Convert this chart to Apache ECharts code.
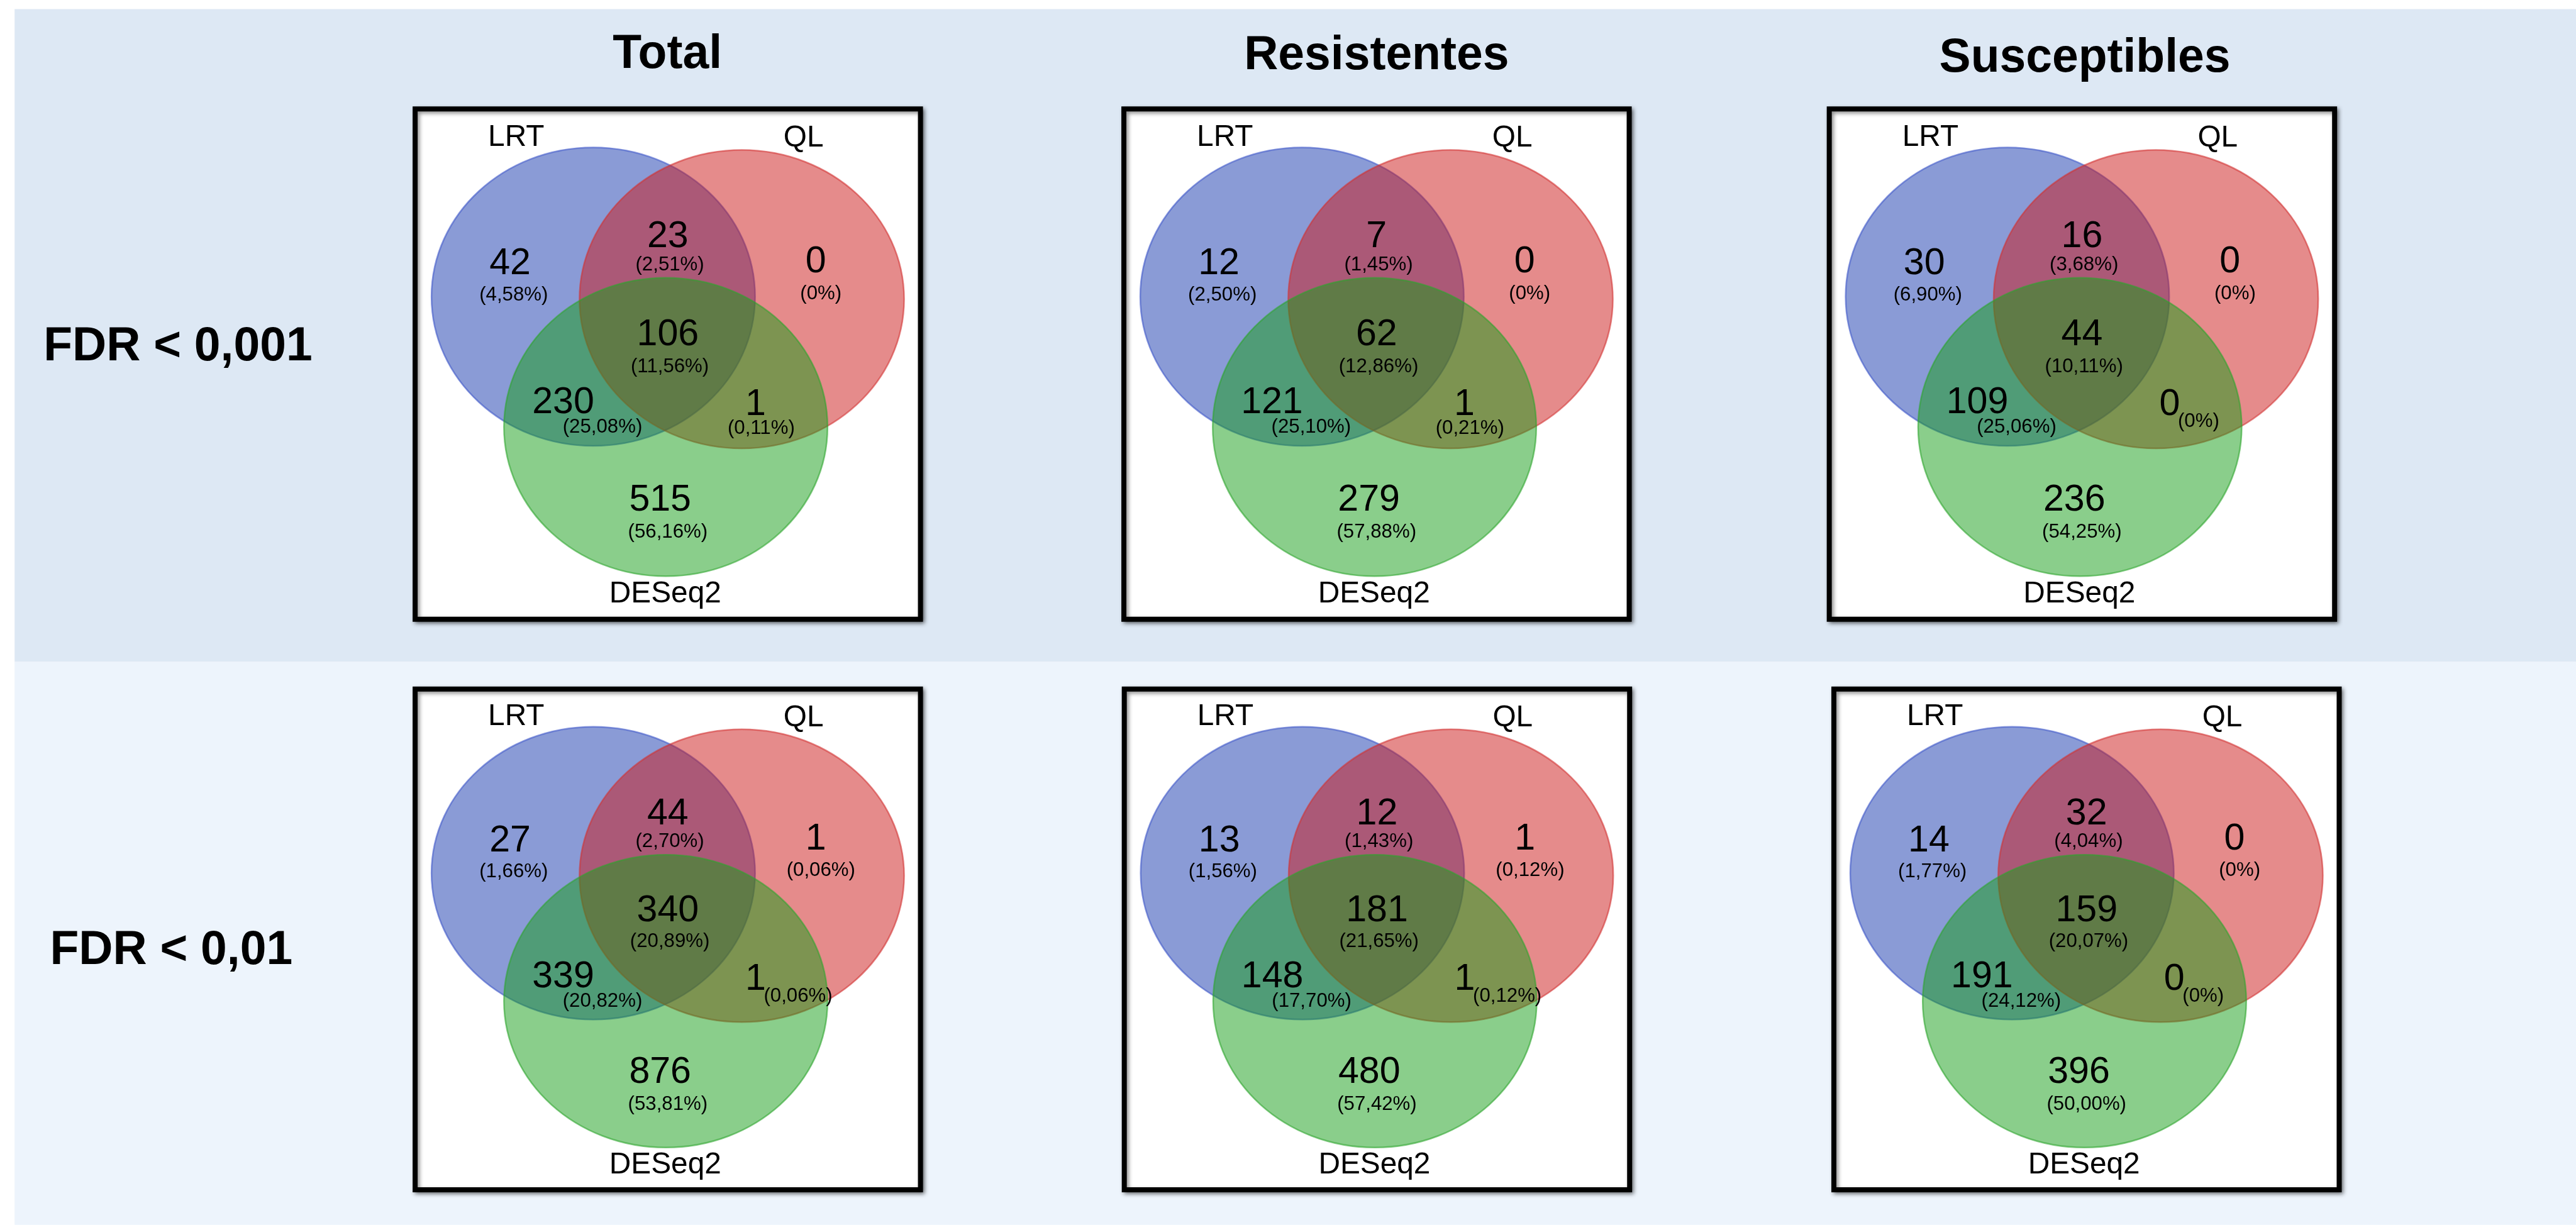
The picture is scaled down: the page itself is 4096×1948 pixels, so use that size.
<!DOCTYPE html>
<html>
<head>
<meta charset="utf-8">
<title>Venn DE genes</title>
<script src="https://cdn.jsdelivr.net/npm/echarts@6/dist/echarts.min.js"></script>
<style>
  html, body { margin: 0; padding: 0; background: #ffffff; }
  #chart { width: 4096px; height: 1948px; }
</style>
</head>
<body>
<div id="chart"></div>
<script>
// ---- data -------------------------------------------------------------
const columnTitles = ['Total', 'Resistentes', 'Susceptibles'];
const rowLabels = ['FDR < 0,001', 'FDR < 0,01'];
const setNames = ['LRT', 'QL', 'DESeq2'];
// region order: LRT only, LRT∩QL, QL only, LRT∩QL∩DESeq2, LRT∩DESeq2, QL∩DESeq2, DESeq2 only
const regionNames = ['LRT', 'LRT∩QL', 'QL', 'LRT∩QL∩DESeq2', 'LRT∩DESeq2', 'QL∩DESeq2', 'DESeq2'];

const countsFdr001Total = [42, 23, 0, 106, 230, 1, 515];
const pctFdr001Total = [4.58, 2.51, 0, 11.56, 25.08, 0.11, 56.16];
const countsFdr001Res = [12, 7, 0, 62, 121, 1, 279];
const pctFdr001Res = [2.50, 1.45, 0, 12.86, 25.10, 0.21, 57.88];
const countsFdr001Sus = [30, 16, 0, 44, 109, 0, 236];
const pctFdr001Sus = [6.90, 3.68, 0, 10.11, 25.06, 0, 54.25];

const countsFdr01Total = [27, 44, 1, 340, 339, 1, 876];
const pctFdr01Total = [1.66, 2.70, 0.06, 20.89, 20.82, 0.06, 53.81];
const countsFdr01Res = [13, 12, 1, 181, 148, 1, 480];
const pctFdr01Res = [1.56, 1.43, 0.12, 21.65, 17.70, 0.12, 57.42];
const countsFdr01Sus = [14, 32, 0, 159, 191, 0, 396];
const pctFdr01Sus = [1.77, 4.04, 0, 20.07, 24.12, 0, 50.00];

const panelCounts = [
  [countsFdr001Total, countsFdr001Res, countsFdr001Sus],
  [countsFdr01Total, countsFdr01Res, countsFdr01Sus]
];
const panelPcts = [
  [pctFdr001Total, pctFdr001Res, pctFdr001Sus],
  [pctFdr01Total, pctFdr01Res, pctFdr01Sus]
];

// ---- layout (design units, scaled to the canvas by K) -----------------
const K = 4096 / 6168;
const FONT = "'Liberation Sans', Arial, Helvetica, sans-serif";
const BOX_W = 1222;
const ROWS = [
  { y: 255, h: 1234, xs: [988, 2685, 4374], labelX: 426, labelY: 832 },
  { y: 1644, h: 1211, xs: [988, 2686, 4385], labelX: 410, labelY: 2277 }
];
const TITLE_POS = [[1598, 132], [3296, 134], [4992, 141]];
const BANDS = [
  { x: 35, y: 22, x2: 6168, y2: 1585, color: '#dde8f4' },
  { x: 35, y: 1585, x2: 6168, y2: 2933, color: '#edf4fc' }
];

// ellipses in box-relative fractions
const ELLIPSES = [
  { cx: 0.354, cy: 0.369, rx: 0.317, ry: 0.2895, fill: 'rgba(21,55,173,0.5)', stroke: 'rgba(60,85,200,0.6)' },
  { cx: 0.645, cy: 0.374, rx: 0.318, ry: 0.2895, fill: 'rgba(203,23,23,0.5)', stroke: 'rgba(210,50,50,0.6)' },
  { cx: 0.496, cy: 0.622, rx: 0.317, ry: 0.2895, fill: 'rgba(21,157,23,0.5)', stroke: 'rgba(45,165,45,0.6)' }
];
const NAME_POS = [[0.203, 0.060], [0.766, 0.062], [0.495, 0.946]];
const REGION_POS = [
  { n: [0.191, 0.306], p: [0.198, 0.366] },
  { n: [0.500, 0.253], p: [0.504, 0.307] },
  { n: [0.790, 0.302], p: [0.800, 0.364] },
  { n: [0.500, 0.444], p: [0.504, 0.505] },
  { n: [0.295, 0.575], p: [0.372, 0.622] },
  { n: [0.672, 0.579], p: [0.683, 0.625] },
  { n: [0.485, 0.764], p: [0.500, 0.826] }
];
// panels whose QL∩DESeq2 percentage sits to the right of the count
const INLINE_PCT = [[false, false, true], [true, true, true]];
const INLINE_POS = [0.688, 0.612];

const FS_COUNT = 89 * K, FS_PCT = 47 * K, FS_NAME = 72 * K, FS_HEAD = 113 * K;

function fmtPct(v) {
  return '(' + (v === 0 ? '0' : v.toFixed(2).replace('.', ',')) + '%)';
}

// ---- option -----------------------------------------------------------
const grids = [], xAxes = [], yAxes = [], series = [], graphics = [];

BANDS.forEach(b => graphics.push({
  type: 'rect', z: 0, silent: true,
  shape: { x: b.x * K, y: b.y * K, width: (b.x2 - b.x) * K, height: (b.y2 - b.y) * K },
  style: { fill: b.color }
}));

columnTitles.forEach((t, c) => graphics.push({
  type: 'text', z: 1, x: TITLE_POS[c][0] * K, y: TITLE_POS[c][1] * K,
  style: { text: t, fill: '#000', fontFamily: FONT, fontWeight: 'bold', fontSize: FS_HEAD, align: 'center', verticalAlign: 'middle' }
}));

const BORDER = 12 * K;
ROWS.forEach((row, r) => {
  graphics.push({
    type: 'text', z: 1, x: row.labelX * K, y: row.labelY * K,
    style: { text: rowLabels[r], fill: '#000', fontFamily: FONT, fontWeight: 'bold', fontSize: FS_HEAD, align: 'center', verticalAlign: 'middle' }
  });
  row.xs.forEach((x0, c) => {
    const p = r * 3 + c;
    // framed white panel
    graphics.push({
      type: 'rect', z: 1, silent: true,
      shape: { x: x0 * K + BORDER / 2, y: row.y * K + BORDER / 2, width: BOX_W * K - BORDER, height: row.h * K - BORDER },
      style: { fill: '#ffffff', stroke: '#000000', lineWidth: BORDER,
        shadowBlur: 6, shadowOffsetX: 3, shadowOffsetY: 3, shadowColor: 'rgba(0,0,0,0.45)' }
    });
    grids.push({ left: x0 * K, top: row.y * K, width: BOX_W * K, height: row.h * K, show: false });
    xAxes.push({ type: 'value', gridIndex: p, min: 0, max: 1, show: false });
    yAxes.push({ type: 'value', gridIndex: p, min: 0, max: 1, inverse: true, show: false });

    // the three sets
    series.push({
      type: 'custom', name: columnTitles[c] + ' sets', coordinateSystem: 'cartesian2d',
      xAxisIndex: p, yAxisIndex: p, z: 3, silent: true,
      data: setNames.map((n, i) => [i]),
      renderItem(params, api) {
        const i = api.value(0);
        const e = ELLIPSES[i];
        const ctr = api.coord([e.cx, e.cy]);
        const sz = api.size([e.rx, e.ry]);
        const np = api.coord(NAME_POS[i]);
        return {
          type: 'group',
          children: [
            { type: 'ellipse', shape: { cx: ctr[0], cy: ctr[1], rx: sz[0], ry: sz[1] },
              style: { fill: e.fill, stroke: e.stroke, lineWidth: 2.5 } },
            { type: 'text', x: np[0], y: np[1],
              style: { text: setNames[i], fill: '#000', fontFamily: FONT, fontSize: FS_NAME, align: 'center', verticalAlign: 'middle' } }
          ]
        };
      }
    });

    // region counts and shares
    const counts = panelCounts[r][c], pcts = panelPcts[r][c];
    const inline = INLINE_PCT[r][c];
    series.push({
      type: 'custom', name: columnTitles[c] + ' ' + rowLabels[r], coordinateSystem: 'cartesian2d',
      xAxisIndex: p, yAxisIndex: p, z: 5, silent: true,
      encode: { x: 0, y: 0 },
      data: counts.map((v, k) => [k, v, pcts[k]]),
      renderItem(params, api) {
        const k = api.value(0), v = api.value(1), pc = api.value(2);
        const pos = REGION_POS[k];
        const side = inline && k === 5;
        const nxy = api.coord(pos.n);
        const pxy = api.coord(side ? INLINE_POS : pos.p);
        return {
          type: 'group',
          children: [
            { type: 'text', x: nxy[0], y: nxy[1],
              style: { text: String(v), fill: '#000', fontFamily: FONT, fontSize: FS_COUNT, align: 'center', verticalAlign: 'middle' } },
            { type: 'text', x: pxy[0], y: pxy[1],
              style: { text: fmtPct(pc), fill: '#000', fontFamily: FONT, fontSize: FS_PCT, align: side ? 'left' : 'center', verticalAlign: 'middle' } }
          ]
        };
      }
    });
  });
});

const chart = echarts.init(document.getElementById('chart'), null, { renderer: 'canvas' });
chart.setOption({
  animation: false,
  backgroundColor: '#ffffff',
  grid: grids,
  xAxis: xAxes,
  yAxis: yAxes,
  graphic: { elements: graphics },
  series: series
});
</script>
</body>
</html>
